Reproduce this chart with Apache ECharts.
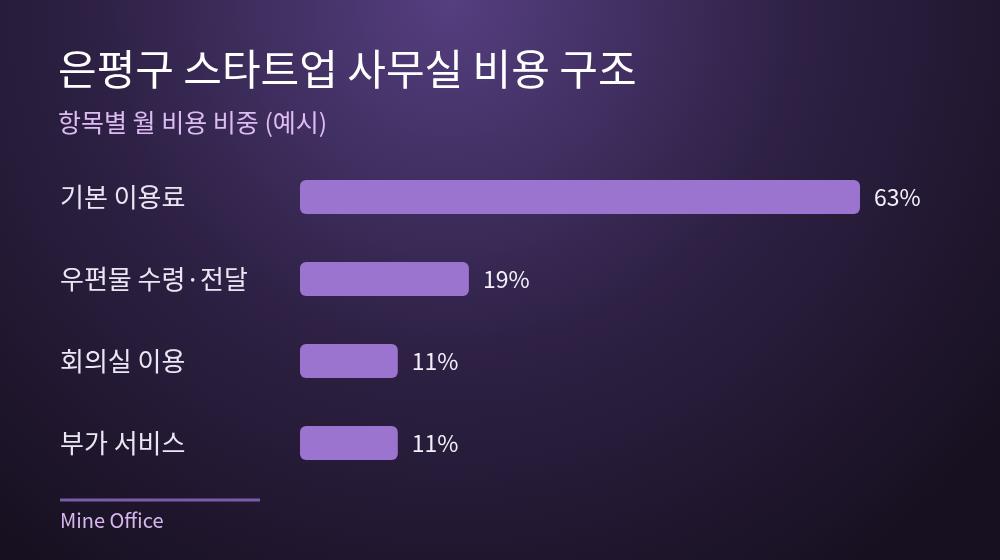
<!DOCTYPE html>
<html>
<head>
<meta charset="utf-8">
<script src="https://cdn.jsdelivr.net/npm/echarts@6/dist/echarts.min.js"></script>
<style>
  html, body { margin: 0; padding: 0; background: #1a1226; }
  #chart { width: 1000px; height: 560px; }
</style>
</head>
<body>
<div id="chart"></div>
<script>
var categories = ['기본 이용료', '우편물 수령·전달', '회의실 이용', '부가 서비스'];
var shares = [63, 19, 11, 11];
var titleText = '은평구 스타트업 사무실 비용 구조';
var subtitleText = '항목별 월 비용 비중 (예시)';
var sourceText = 'Mine Office';

var FONT = '"Noto Sans CJK KR", "Noto Sans", sans-serif';

var chart = echarts.init(document.getElementById('chart'));

chart.setOption({
    backgroundColor: {
        type: 'radial',
        x: 0.45, y: 0, r: 1.25,
        colorStops: [
            { offset: 0, color: '#553f80' },
            { offset: 0.5, color: '#2e2145' },
            { offset: 1, color: '#171020' }
        ]
    },
    textStyle: { fontFamily: FONT },
    title: {
        text: titleText,
        subtext: subtitleText,
        left: 58,
        top: 48,
        padding: 0,
        itemGap: 20,
        textStyle: { color: '#ffffff', fontSize: 42, fontWeight: 'normal', fontFamily: FONT },
        subtextStyle: { color: '#dcbcf2', fontSize: 25, fontFamily: FONT }
    },
    grid: { left: 300, right: 140, top: 156, bottom: 76 },
    xAxis: {
        type: 'value',
        min: 0,
        max: 63,
        show: false
    },
    yAxis: {
        type: 'category',
        data: categories,
        inverse: true,
        axisLine: { show: false },
        axisTick: { show: false },
        splitLine: { show: false },
        axisLabel: {
            align: 'left',
            margin: 240,
            color: '#ece6f4',
            fontSize: 26,
            fontFamily: FONT
        }
    },
    series: [{
        type: 'bar',
        data: shares,
        barWidth: 34,
        itemStyle: { color: '#9b74d0', borderRadius: 6 },
        label: {
            show: true,
            position: 'right',
            distance: 14,
            formatter: '{c}%',
            color: '#f4f0fa',
            fontSize: 23,
            fontFamily: FONT
        },
        silent: true
    }],
    graphic: [
        {
            type: 'rect',
            shape: { x: 60, y: 498.5, width: 200, height: 3 },
            style: { fill: '#7b5ca8' }
        },
        {
            type: 'text',
            x: 60,
            y: 510,
            style: {
                text: sourceText,
                fill: '#d6b8ec',
                font: '20px ' + FONT,
                textVerticalAlign: 'top'
            }
        }
    ]
});
</script>
</body>
</html>
